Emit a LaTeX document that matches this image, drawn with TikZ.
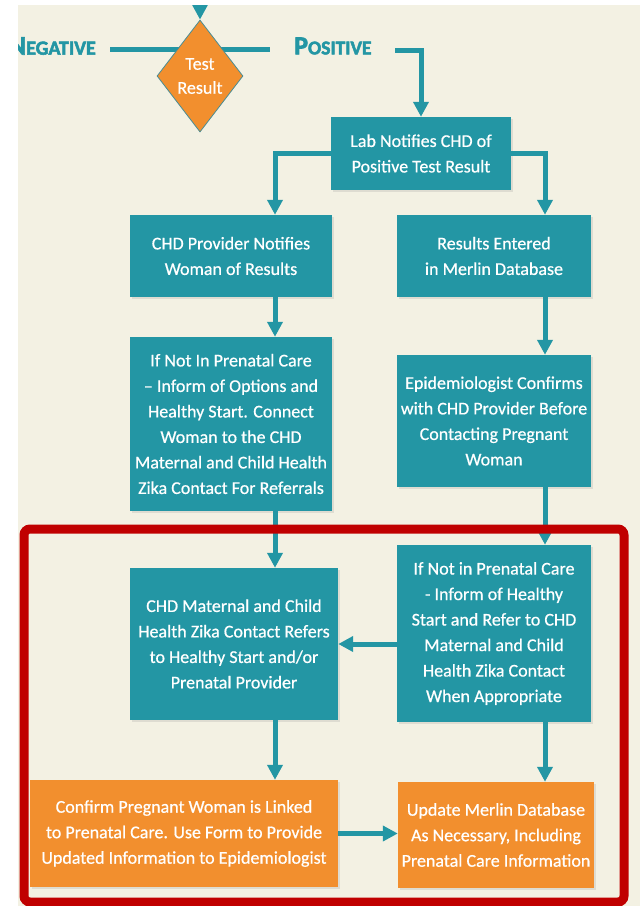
\documentclass[tikz,border=0pt]{standalone}
\usepackage{fontspec}
\setmainfont{Carlito}
\newfontfamily\boxfont{Carlito}[FakeBold=0.6]
\newfontfamily\tagfont{Carlito}[FakeBold=2.6]
\usetikzlibrary{shapes.geometric,arrows.meta,shadows}
\definecolor{teal}{HTML}{2396A4}
\definecolor{orng}{HTML}{F28F2E}
\definecolor{cream}{HTML}{F3F1E3}
\definecolor{frame}{HTML}{C00000}
\tikzset{
  box/.style={rectangle, fill=teal, text=white, align=center, inner sep=1pt,
    font=\boxfont\fontsize{18}{25.5}\selectfont,
    drop shadow={opacity=0.18, shadow xshift=1.5pt, shadow yshift=-1.5pt}},
  obox/.style={box, fill=orng},
  flow/.style={draw=teal, line width=5pt,
    -{Triangle[width=15pt,length=15pt]}},
  bar/.style={draw=teal, line width=5pt},
  tag/.style={text=teal, font=\tagfont\bfseries, inner sep=0pt},
}
\begin{document}
\begin{tikzpicture}[x=1pt,y=-1pt]
\useasboundingbox (0,0) rectangle (640,906);
\fill[white] (0,0) rectangle (640,906);
\begin{scope}
\clip (18,5) rectangle (640,906);
\fill[cream] (18,5) rectangle (640,906);

% decision at the top
\coordinate (in) at (200,-10);
\coordinate (nl) at (110,49);
\coordinate (nr) at (270,49);
\coordinate (p1) at (395,50);
\draw[bar] (nl) -- (nr);
\node[diamond, fill=orng, draw=teal!60!gray, line width=0.8pt, text=white,
  minimum width=86pt, minimum height=112pt, inner sep=0pt, align=center,
  font=\boxfont\fontsize{18}{24}\selectfont] (dec) at (200,76) {Test\\Result};
\draw[flow] (in) -- (dec.north);
\node[tag, anchor=east] (neg) at (96,46)
  {{\fontsize{27}{27}\selectfont N}{\fontsize{20}{20}\selectfont EGATIVE}};
\node[tag, anchor=west] (pos) at (294,46)
  {{\fontsize{26}{26}\selectfont P}{\fontsize{19.5}{19.5}\selectfont OSITIVE}};

% process boxes
\node[box, minimum width=180pt, minimum height=73pt] (lab) at (421,153.5)
  {Lab Notifies CHD of\\Positive Test Result};
\node[box, minimum width=202pt, minimum height=82pt] (prov) at (231,256)
  {CHD Provider Notifies\\Woman of Results};
\node[box, minimum width=194pt, minimum height=82pt] (res) at (494,256)
  {Results Entered\\in Merlin Database};
\node[box, minimum width=202pt, minimum height=174pt] (inf) at (231,424)
  {If Not In Prenatal Care\\– Inform of Options and\\Healthy Start. Connect\\Woman to the CHD\\Maternal and Child Health\\Zika Contact For Referrals};
\node[box, minimum width=194pt, minimum height=132pt] (epi) at (494,421)
  {Epidemiologist Confirms\\with CHD Provider Before\\Contacting Pregnant\\Woman};
\node[box, minimum width=208pt, minimum height=152pt] (mat) at (234,644)
  {CHD Maternal and Child\\Health Zika Contact Refers\\to Healthy Start and/or\\Prenatal Provider};
\node[box, minimum width=194pt, minimum height=177pt] (inf2) at (494,633.5)
  {If Not in Prenatal Care\\- Inform of Healthy\\Start and Refer to CHD\\Maternal and Child\\Health Zika Contact\\When Appropriate};
\node[obox, minimum width=308pt, minimum height=107pt] (conf) at (184,833.5)
  {Confirm Pregnant Woman is Linked\\to Prenatal Care. Use Form to Provide\\Updated Information to Epidemiologist};
\node[obox, minimum width=196pt, minimum height=106pt] (upd) at (496,835)
  {Update Merlin Database\\As Necessary, Including\\Prenatal Care Information};

% column guides for the vertical connectors
\coordinate (colL) at (275,0);
\coordinate (colR) at (545,0);

% connectors
\draw[flow] (p1) -| (lab.north);
\draw[flow] (lab.west) -| (prov.north -| colL);
\draw[flow] (lab.east) -| (res.north -| colR);
\draw[flow] (prov.south -| colL) -- (inf.north -| colL);
\draw[flow] (res.south -| colR) -- (epi.north -| colR);
\draw[flow] (inf.south -| colL) -- (mat.north -| colL);
\draw[flow] (epi.south -| colR) -- (inf2.north -| colR);
\draw[flow] (mat.east -| inf2.west) -- (mat.east);
\draw[flow] (mat.south -| colL) -- (conf.north -| colL);
\draw[flow] (inf2.south -| colR) -- (upd.north -| colR);
\draw[flow] (conf.east) -- (conf.east -| upd.west);

% highlighted region
\draw[frame, line width=9pt, rounded corners=6pt] (24,529) rectangle (624,902);
\end{scope}
\end{tikzpicture}
\end{document}
